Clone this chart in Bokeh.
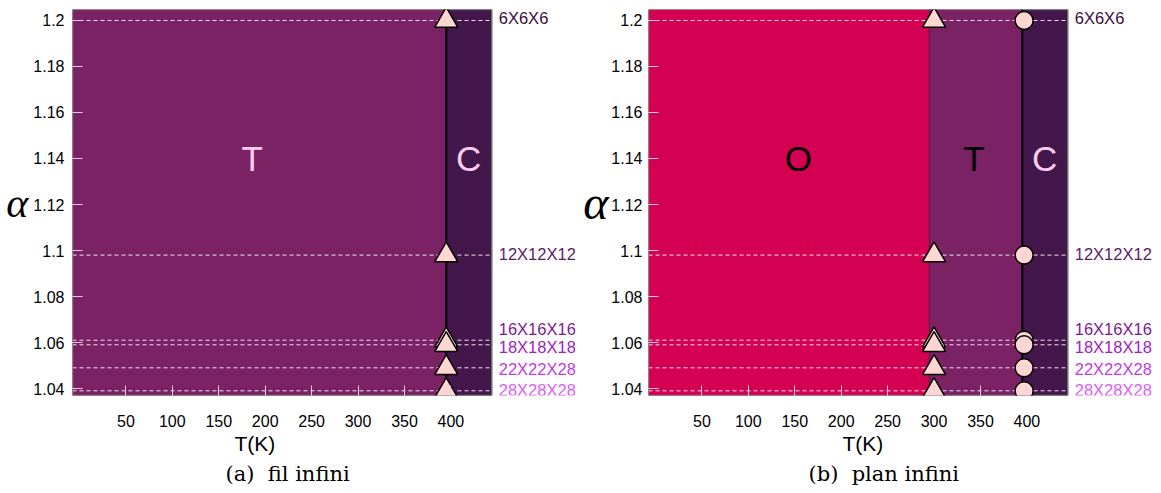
from bokeh.plotting import figure
from bokeh.models import ColumnDataSource, FixedTicker, Title
from bokeh.layouts import row
from bokeh.embed import file_html
from bokeh.resources import INLINE
from bokeh.core.properties import value

# ---------------- data ----------------
sizes = ["6X6X6", "12X12X12", "16X16X16", "18X18X18", "22X22X28", "28X28X28"]
alpha = [1.2, 1.098, 1.061, 1.059, 1.049, 1.039]

# (a) fil infini : T -> C
fil_phases = ["T", "C"]
fil_transitions = [395]
fil_TC_tri = [395, 395, 395, 395, 395, 395]

# (b) plan infini : O -> T -> C
plan_phases = ["O", "T", "C"]
plan_transitions = [295, 395]
plan_OT_tri = [300, 300, 300, 300, 300, 300]
plan_TC_circ = [397, 397, 397, 397, 397, 397]

x_ticks = [50, 100, 150, 200, 250, 300, 350, 400]
y_ticks = [1.04, 1.06, 1.08, 1.1, 1.12, 1.14, 1.16, 1.18, 1.2]
y_tick_labels = ["1.04", "1.06", "1.08", "1.1", "1.12", "1.14", "1.16", "1.18", "1.2"]

x_title = "T(K)"
y_title = "\u03b1"
captions = ["(a)\u00a0\u00a0fil infini", "(b)\u00a0\u00a0plan infini"]

# ---------------- style ----------------
X_LO, X_HI = -7.5, 444.0          # drawn box of the diagram
Y_LO, Y_HI = 1.03696, 1.20478
PX_PER_T = 0.9286                 # horizontal scale (px per K)
phase_colors = {"O": "#d40052", "T": "#7a2264", "C": "#43174b"}
size_colors = ["#3a0c3c", "#5c1a6c", "#80189a", "#a420c0", "#c43ae4", "#dc5cf4"]
label_dy = [2, 1, 11, -2, -1, 1]   # px, up = positive
MARK_FILL = "#ffd6d2"
SANS = "Liberation Sans"
SERIF = "Liberation Serif"
CAPTION_FONT = "DejaVu Serif"


def make_panel(phases, transitions, phase_x, text_colors, width, bl,
               alpha_size, alpha_standoff, tick_standoff, xlabel_off, caption, caption_off):
    br = 3
    frame_w = width - bl - br
    x_end = X_LO + frame_w / PX_PER_T
    p = figure(width=width, height=493, x_range=(X_LO, x_end), y_range=(Y_LO, Y_HI),
               output_backend="svg", toolbar_location=None,
               min_border_left=bl, min_border_right=br,
               min_border_top=9, min_border_bottom=98)
    p.xgrid.visible = False
    p.ygrid.visible = False
    p.outline_line_color = None

    edges = [X_LO - 50] + transitions + [X_HI]
    p.quad(left=edges[:-1], right=edges[1:], bottom=Y_LO - 1, top=Y_HI + 1,
           fill_color=[phase_colors[ph] for ph in phases], line_color=None)

    p.text(x=phase_x, y=[1.14] * len(phases), text=phases,
           text_color=text_colors, text_font=value(SANS), text_font_size="35px",
           text_align="center", text_baseline="middle")

    # dashed size lines
    p.segment(x0=X_LO, x1=X_HI, y0=alpha, y1=alpha,
              line_color="#f2e2f2", line_dash="4 3", line_width=1)

    # boundaries
    for i, t in enumerate(transitions):
        last = (i == len(transitions) - 1)
        p.segment(x0=[t], x1=[t], y0=Y_LO - 1, y1=Y_HI + 1,
                  line_color="black" if last else "#4a1a3e",
                  line_width=2 if last else 1)

    # frame box
    p.quad(left=X_LO, right=X_HI, bottom=Y_LO, top=Y_HI,
           fill_color=None, line_color="#6a6a6a", line_width=1.5)

    # axes
    p.xaxis.ticker = FixedTicker(ticks=x_ticks)
    p.yaxis.ticker = FixedTicker(ticks=y_ticks)
    p.yaxis.major_label_overrides = dict(zip(y_ticks, y_tick_labels))
    for ax in (p.xaxis[0], p.yaxis[0]):
        ax.axis_line_color = None
        ax.major_tick_out = 0
        ax.major_tick_line_color = "#e6cce6"
        ax.minor_tick_line_color = None
        ax.major_label_text_font = SANS
        ax.major_label_text_font_size = "16px"
        ax.major_label_text_color = "black"
    p.yaxis.major_tick_in = 10
    p.yaxis.major_label_standoff = tick_standoff
    p.xaxis.major_tick_in = 10
    p.xaxis.major_label_standoff = 19

    p.yaxis.axis_label = y_title
    p.yaxis.axis_label_orientation = "horizontal"
    p.yaxis.axis_label_text_font = SERIF
    p.yaxis.axis_label_text_font_style = "italic"
    p.yaxis.axis_label_text_font_size = alpha_size
    p.yaxis.axis_label_text_color = "black"
    p.yaxis.axis_label_standoff = alpha_standoff

    # size labels to the right of the box
    src = ColumnDataSource(dict(alpha=alpha, size=sizes, color=size_colors,
                                dy=[-d for d in label_dy]))
    p.text(x=X_HI, y="alpha", text="size", source=src,
           x_offset=7, y_offset="dy", text_color="color",
           text_font=value(SANS), text_font_size="16.5px",
           text_align="left", text_baseline="middle")

    p.add_layout(Title(text=x_title, align="left", offset=xlabel_off, standoff=0,
                       text_font=SANS, text_font_size="21px",
                       text_font_style="normal", text_color="black"), "below")
    p.add_layout(Title(text=caption, align="left", offset=caption_off, standoff=11,
                       text_font=CAPTION_FONT, text_font_size="21px",
                       text_font_style="normal", text_color="black"), "below")
    return p


pa = make_panel(fil_phases, fil_transitions, [186, 419], ["#f8cdf0", "#f8cdf0"],
                578, 72, "42px", 2, 8, 162, captions[0], 153)
pa.scatter(x=fil_TC_tri, y=alpha, marker="triangle", size=23,
           fill_color=MARK_FILL, line_color="black", line_width=1.5)

pb = make_panel(plan_phases, plan_transitions, [154, 343, 419],
                ["black", "black", "#f8cdf0"],
                583, 70, "48px", 0, 6, 194, captions[1], 160)
pb.scatter(x=plan_OT_tri, y=alpha, marker="triangle", size=23,
           fill_color=MARK_FILL, line_color="black", line_width=1.5)
pb.scatter(x=plan_TC_circ, y=alpha, marker="circle", size=18,
           fill_color=MARK_FILL, line_color="black", line_width=1.5)

layout = row(pa, pb)
open("out.html", "w").write(file_html(layout, INLINE))
